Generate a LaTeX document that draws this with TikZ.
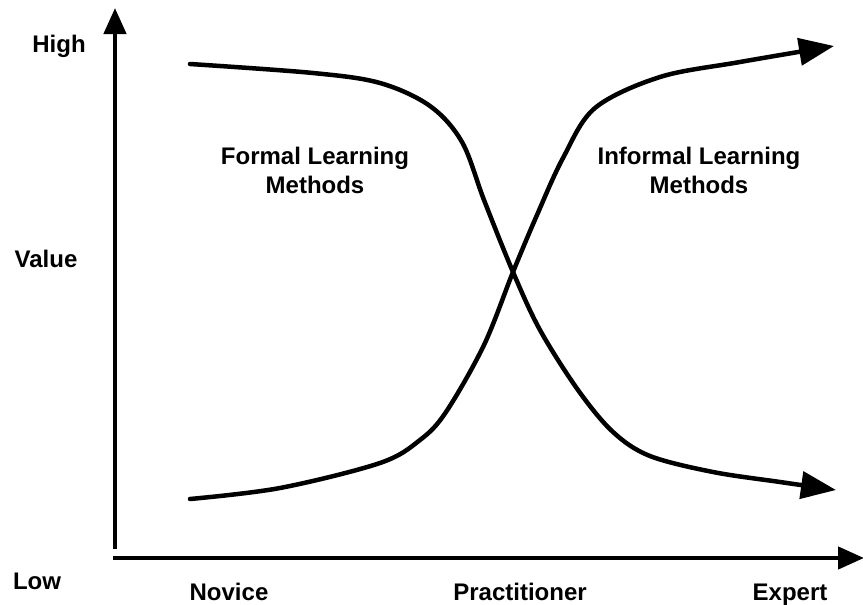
\documentclass[tikz,border=0pt]{standalone}
\usepackage{fontspec}
\setmainfont{Liberation Sans}
\usetikzlibrary{arrows.meta}
\tikzset{
  axisline/.style={line width=4.5pt, -{Triangle[length=26pt,width=22pt]}},
  curveline/.style={line width=4.5pt, line cap=round, -{Triangle[length=35pt,width=27pt]}},
  lbl/.style={font=\fontsize{24}{29}\selectfont\bfseries, inner sep=0pt, anchor=base, align=center},
}
\begin{document}
\begin{tikzpicture}[x=1pt,y=-1pt]
\useasboundingbox (0,0) rectangle (863,605);
% axes
\coordinate (ybot) at (115,549);
\coordinate (ytop) at (115,8);
\coordinate (xleft) at (113,558);
\coordinate (xright) at (864,558);
\draw[axisline] (ybot) -- (ytop);
\draw[axisline] (xleft) -- (xright);
% formal curve
\draw[curveline] plot[smooth, tension=0.55] coordinates {
 (190,64) (313,73) (380,83) (430,106) (462,142) (484,200) (513,272)
 (540,330) (578,390) (613,432) (650,456) (713,472) (780,482) (836,490)};
% informal curve
\draw[curveline] plot[smooth, tension=0.55] coordinates {
 (190,499) (280,488) (380,463) (420,440) (446,412) (484,345) (513,272)
 (537,215) (563,158) (595,108) (660,77) (740,62) (834,46)};
% labels
\node[lbl] (high) at (59,52) {High};
\node[lbl] (value) at (46,267) {Value};
\node[lbl] (low) at (37,589) {Low};
\node[lbl] (novice) at (229,600) {Novice};
\node[lbl] (pract) at (520,600) {Practitioner};
\node[lbl] (expert) at (790,600) {Expert};
\node[lbl] (formal) at (315,193) {Formal Learning\\Methods};
\node[lbl] (informal) at (699,193) {Informal Learning\\Methods};
\end{tikzpicture}
\end{document}
